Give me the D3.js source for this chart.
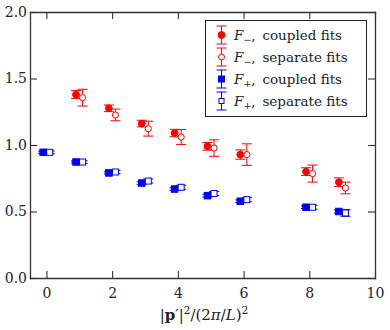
<!DOCTYPE html>
<html>
<head>
<meta charset="utf-8" />
<title>F- and F+ fits</title>
<style>
  body { margin: 0; background: #fff; }
  text { font-family: "DejaVu Serif", "Liberation Serif", serif; }
</style>
</head>
<body>
<svg id="chart" width="390" height="330"></svg>
<script src="https://d3js.org/d3.v7.min.js"></script>
<script>
// momentum values
var xMinus = [1, 2, 3, 4, 5, 6, 8, 9];
var xPlus = [0, 1, 2, 3, 4, 5, 6, 8, 9];

// F-, coupled and separate fits
var fMinusCoupled = [1.379, 1.276, 1.161, 1.090, 0.990, 0.928, 0.800, 0.720];
var fMinusCoupledErr = [0.030, 0.025, 0.025, 0.028, 0.029, 0.035, 0.029, 0.033];
var fMinusSeparate = [1.356, 1.226, 1.123, 1.060, 0.977, 0.928, 0.785, 0.677];
var fMinusSeparateErr = [0.063, 0.044, 0.056, 0.056, 0.062, 0.081, 0.064, 0.044];

// F+, coupled and separate fits
var fPlusCoupled = [0.945, 0.872, 0.790, 0.714, 0.669, 0.619, 0.577, 0.532, 0.500];
var fPlusCoupledErr = [0.008, 0.008, 0.008, 0.010, 0.010, 0.010, 0.010, 0.010, 0.012];
var fPlusSeparate = [0.945, 0.872, 0.797, 0.729, 0.682, 0.635, 0.589, 0.532, 0.489];
var fPlusSeparateErr = [0.010, 0.010, 0.012, 0.015, 0.015, 0.015, 0.015, 0.015, 0.025];

var xTicks = [0, 2, 4, 6, 8, 10];
var yTicks = [0.0, 0.5, 1.0, 1.5, 2.0];

var red = "#ff0000", blue = "#0000ff";
var shift = 0.1;

var svg = d3.select("#chart");
var plotL = 30, plotR = 375, plotT = 12, plotB = 278;

var x = d3.scaleLinear().domain([-0.5, 10]).range([plotL, plotR]);
var y = d3.scaleLinear().domain([0, 2]).range([plotB, plotT]);

// axes, ticks pointing inward
function styleAxis(g) {
  g.select(".domain").attr("stroke", "#333").attr("stroke-width", 1.3);
  g.selectAll(".tick line").attr("stroke", "#333").attr("stroke-width", 1.1);
  g.selectAll(".tick text").attr("fill", "#222").style("font-size", "14px")
    .style("font-family", "DejaVu Serif, serif");
}
svg.append("g").attr("transform", "translate(0," + plotB + ")")
  .call(d3.axisBottom(x).tickValues(xTicks).tickSizeInner(-7).tickSizeOuter(0).tickPadding(10)
    .tickFormat(d3.format("d")))
  .call(styleAxis);
svg.append("g").attr("transform", "translate(0," + plotT + ")")
  .call(d3.axisTop(x).tickValues(xTicks).tickSizeInner(-7).tickSizeOuter(0).tickFormat(""))
  .call(styleAxis);
svg.append("g").attr("transform", "translate(" + plotL + ",0)")
  .call(d3.axisLeft(y).tickValues(yTicks).tickSizeInner(-7).tickSizeOuter(0).tickPadding(3)
    .tickFormat(d3.format(".1f")))
  .call(styleAxis);
svg.append("g").attr("transform", "translate(" + plotR + ",0)")
  .call(d3.axisRight(y).tickValues(yTicks).tickSizeInner(-7).tickSizeOuter(0).tickFormat(""))
  .call(styleAxis);
svg.selectAll(".domain").attr("stroke-linecap", "square");

// error bars + markers
function series(xs, vals, errs, dx, color, shape, filled) {
  var data = xs.map(function(d, i) { return { x: d + dx, v: vals[i], e: errs[i] }; });
  var g = svg.append("g");
  var cap = 5;
  var bars = g.selectAll("g.eb").data(data).enter().append("g")
    .attr("stroke", color).attr("stroke-width", 1);
  bars.append("line")
    .attr("x1", function(d) { return x(d.x); }).attr("x2", function(d) { return x(d.x); })
    .attr("y1", function(d) { return y(d.v - d.e); }).attr("y2", function(d) { return y(d.v + d.e); });
  [-1, 1].forEach(function(s) {
    bars.append("line")
      .attr("x1", function(d) { return x(d.x) - cap; }).attr("x2", function(d) { return x(d.x) + cap; })
      .attr("y1", function(d) { return y(d.v + s * d.e); }).attr("y2", function(d) { return y(d.v + s * d.e); });
  });
  if (shape == "circle") {
    g.selectAll("circle").data(data).enter().append("circle")
      .attr("cx", function(d) { return x(d.x); }).attr("cy", function(d) { return y(d.v); })
      .attr("r", filled ? 3.4 : 3.1)
      .attr("fill", filled ? color : "#fff").attr("stroke", color).attr("stroke-width", 1);
  } else {
    var s = filled ? 6.5 : 6;
    g.selectAll("rect").data(data).enter().append("rect")
      .attr("x", function(d) { return x(d.x) - s / 2; }).attr("y", function(d) { return y(d.v) - s / 2; })
      .attr("width", s).attr("height", s)
      .attr("fill", filled ? color : "#fff").attr("stroke", color).attr("stroke-width", 1);
  }
}
series(xPlus, fPlusCoupled, fPlusCoupledErr, -shift, blue, "rect", true);
series(xPlus, fPlusSeparate, fPlusSeparateErr, shift, blue, "rect", false);
series(xMinus, fMinusCoupled, fMinusCoupledErr, -shift, red, "circle", true);
series(xMinus, fMinusSeparate, fMinusSeparateErr, shift, red, "circle", false);

// legend
var legend = svg.append("g");
legend.append("rect").attr("x", 205.5).attr("y", 20.5).attr("width", 161).attr("height", 96)
  .attr("fill", "#fff").attr("stroke", "#222").attr("stroke-width", 1);
var legendItems = [
  { sub: "\u2212", label: "coupled fits", color: red, shape: "circle", filled: true },
  { sub: "\u2212", label: "separate fits", color: red, shape: "circle", filled: false },
  { sub: "+", label: "coupled fits", color: blue, shape: "rect", filled: true },
  { sub: "+", label: "separate fits", color: blue, shape: "rect", filled: false }
];
legendItems.forEach(function(it, i) {
  var cy = 35 + i * 22, cx = 221.5;
  var g = legend.append("g").attr("stroke", it.color).attr("stroke-width", 1);
  g.append("line").attr("x1", cx).attr("x2", cx).attr("y1", cy - 9).attr("y2", cy + 9);
  g.append("line").attr("x1", cx - 5).attr("x2", cx + 5).attr("y1", cy - 9).attr("y2", cy - 9);
  g.append("line").attr("x1", cx - 5).attr("x2", cx + 5).attr("y1", cy + 9).attr("y2", cy + 9);
  if (it.shape == "circle") {
    g.append("circle").attr("cx", cx).attr("cy", cy).attr("r", it.filled ? 3.4 : 3)
      .attr("fill", it.filled ? it.color : "#fff");
  } else {
    var s = it.filled ? 6 : 5;
    g.append("rect").attr("x", cx - s / 2).attr("y", cy - s / 2).attr("width", s).attr("height", s)
      .attr("fill", it.filled ? it.color : "#fff");
  }
  var t = legend.append("text").attr("x", 234).attr("y", cy + 5).attr("fill", "#222")
    .style("font-size", "13.5px");
  t.append("tspan").style("font-style", "italic").text("F");
  t.append("tspan").attr("dy", 3).style("font-size", "9.5px").text(it.sub);
  t.append("tspan").attr("dy", -3).text(",\u2002" + it.label);
});

// x axis title
var xt = svg.append("text").attr("x", 204).attr("y", 320).attr("text-anchor", "middle")
  .attr("fill", "#222").style("font-size", "15px");
xt.append("tspan").text("|");
xt.append("tspan").style("font-weight", "bold").text("p");
xt.append("tspan").text("\u2032|");
xt.append("tspan").attr("dy", -6).style("font-size", "10.5px").text("2");
xt.append("tspan").attr("dy", 6).text("/(2");
xt.append("tspan").style("font-style", "italic").text("\u03c0");
xt.append("tspan").text("/");
xt.append("tspan").style("font-style", "italic").text("L");
xt.append("tspan").text(")");
xt.append("tspan").attr("dy", -6).style("font-size", "10.5px").text("2");
</script>
</body>
</html>
